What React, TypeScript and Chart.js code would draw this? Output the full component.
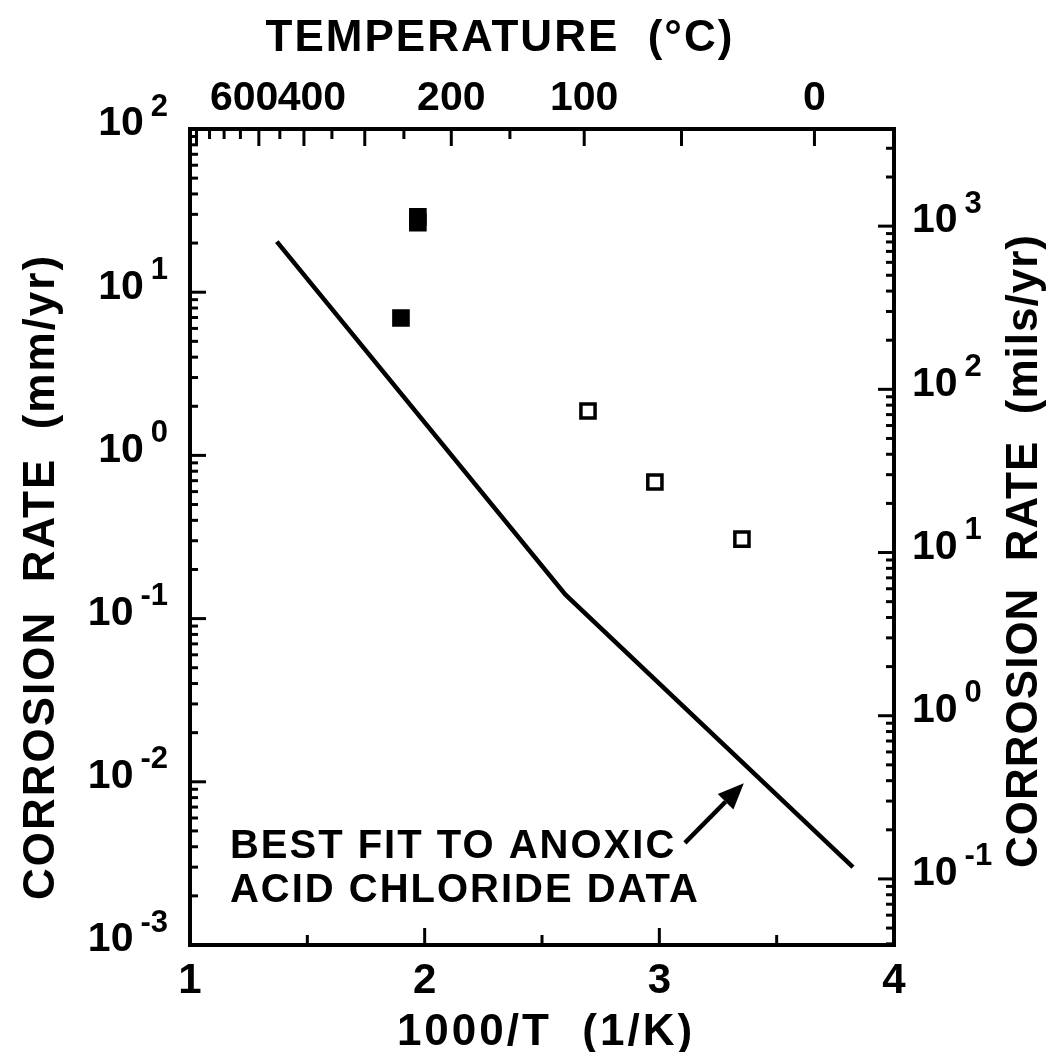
import React, { useEffect, useRef } from "react";
import { Chart, registerables } from "chart.js";
Chart.register(...registerables);

// ---- data ----
const fitX = [1.37, 2.6, 3.825];
const fitY = [20.4, 0.14, 0.003];
const openX = [2.696, 2.981, 3.352];
const openY = [1.87, 0.687, 0.307];
const filledX = [1.971, 1.971, 1.899];
const filledY = [29.0, 26.7, 6.95];

const xMajorTicks = [1, 2, 3, 4];
const xMinorTicks = [1.5, 2.5, 3.5];
const mmDecades = [-3, -2, -1, 0, 1, 2];
const milsDecades = [-1, 0, 1, 2, 3];
const MM_TO_MILS = 39.37;
const tempLabels = [600, 400, 200, 100, 0];
const tempLongTicks = [700, 500, 400, 300, 200, 100, 50, 0];
const tempShortTicks = [650, 600, 550, 450, 350, 250, 150];

const noteLines = ["BEST FIT TO ANOXIC", "ACID CHLORIDE DATA"];
const noteAnchorX = 1.17;
const noteAnchorY = [0.00398, 0.00214];
const arrowFrom = [3.109, 0.00422];
const arrowTo = [3.36, 0.0098];

// style: horizontal nudges (px) for crowded top labels
const tempLabelNudge: Record<number, number> = { 600: 20, 400: 8 };

const FONT = '"Liberation Sans", Arial, Helvetica, sans-serif';
const invT = (c: number) => 1000 / (c + 273.15);

const axesPlugin = {
  id: "axesPlugin",
  afterDraw(chart: any) {
    const { ctx, chartArea: ca, scales } = chart;
    const xs = scales.x;
    const ys = scales.y;
    ctx.save();
    ctx.strokeStyle = "#000";
    ctx.fillStyle = "#000";
    ctx.lineCap = "butt";

    ctx.lineWidth = 4;
    ctx.strokeRect(ca.left, ca.top, ca.right - ca.left, ca.bottom - ca.top);

    ctx.lineWidth = 3;
    const hTick = (x: number, y0: number, len: number) => {
      ctx.beginPath();
      ctx.moveTo(x, y0);
      ctx.lineTo(x, y0 + len);
      ctx.stroke();
    };
    const vTick = (y: number, x0: number, len: number) => {
      ctx.beginPath();
      ctx.moveTo(x0, y);
      ctx.lineTo(x0 + len, y);
      ctx.stroke();
    };

    xMajorTicks.forEach((v) => hTick(xs.getPixelForValue(v), ca.bottom, -17));
    xMinorTicks.forEach((v) => hTick(xs.getPixelForValue(v), ca.bottom, -10));
    tempLongTicks.forEach((t) => hTick(xs.getPixelForValue(invT(t)), ca.top, 17));
    tempShortTicks.forEach((t) => hTick(xs.getPixelForValue(invT(t)), ca.top, 10));

    for (let d = -3; d <= 2; d++) {
      for (let k = 1; k <= 9; k++) {
        const v = k * Math.pow(10, d);
        if (v < 1e-3 - 1e-12 || v > 100 + 1e-9) continue;
        vTick(ys.getPixelForValue(v), ca.left, k === 1 ? 16 : 8);
      }
    }
    for (let d = -2; d <= 3; d++) {
      for (let k = 1; k <= 9; k++) {
        const mils = k * Math.pow(10, d);
        const mm = mils / MM_TO_MILS;
        if (mm < 1e-3 || mm > 100) continue;
        vTick(ys.getPixelForValue(mm), ca.right, k === 1 ? -16 : -8);
      }
    }

    const baseFont = `bold 41px ${FONT}`;
    const expFont = `bold 31px ${FONT}`;
    const drawPow = (exp: number, y: number, x: number, align: "left" | "right") => {
      const es = exp < 0 ? "-" + Math.abs(exp) : String(exp);
      ctx.font = baseFont;
      const wb = ctx.measureText("10").width;
      ctx.font = expFont;
      const we = ctx.measureText(es).width;
      const gap = 7;
      const x0 = align === "right" ? x - (wb + gap + we) : x;
      ctx.textBaseline = "middle";
      ctx.textAlign = "left";
      ctx.font = baseFont;
      ctx.fillText("10", x0, y - 5);
      ctx.font = expFont;
      ctx.fillText(es, x0 + wb + gap, y - 22);
    };
    mmDecades.forEach((d) => drawPow(d, ys.getPixelForValue(Math.pow(10, d)), ca.left - 22, "right"));
    milsDecades.forEach((d) =>
      drawPow(d, ys.getPixelForValue(Math.pow(10, d) / MM_TO_MILS), ca.right + 18, "left")
    );

    ctx.font = `bold 42px ${FONT}`;
    ctx.textAlign = "center";
    ctx.textBaseline = "middle";
    xMajorTicks.forEach((v) => ctx.fillText(String(v), xs.getPixelForValue(v), ca.bottom + 36));
    ctx.font = `bold 41px ${FONT}`;
    tempLabels.forEach((t) =>
      ctx.fillText(String(t), xs.getPixelForValue(invT(t)) + (tempLabelNudge[t] || 0), ca.top - 30)
    );

    const cx = (ca.left + ca.right) / 2;
    const cy = (ca.top + ca.bottom) / 2;
    ctx.font = `bold 44px ${FONT}`;
    (ctx as any).letterSpacing = "3px";
    ctx.fillText("1000/T  (1/K)", cx + 4, ca.bottom + 88);
    (ctx as any).letterSpacing = "2px";
    ctx.fillText("TEMPERATURE  (°C)", cx - 42, ca.top - 90);
    ctx.save();
    ctx.translate(ca.left - 148, cy + 40);
    ctx.rotate(-Math.PI / 2);
    ctx.fillText("CORROSION  RATE  (mm/yr)", 0, 0);
    ctx.restore();
    (ctx as any).letterSpacing = "1px";
    ctx.save();
    ctx.translate(ca.right + 131, cy + 14);
    ctx.rotate(-Math.PI / 2);
    ctx.fillText("CORROSION  RATE  (mils/yr)", 0, 0);
    ctx.restore();

    (ctx as any).letterSpacing = "2px";
    ctx.font = `bold 40px ${FONT}`;
    ctx.textAlign = "left";
    noteLines.forEach((s, i) =>
      ctx.fillText(s, xs.getPixelForValue(noteAnchorX), ys.getPixelForValue(noteAnchorY[i]))
    );
    (ctx as any).letterSpacing = "0px";

    const ax0 = xs.getPixelForValue(arrowFrom[0]);
    const ay0 = ys.getPixelForValue(arrowFrom[1]);
    const ax1 = xs.getPixelForValue(arrowTo[0]);
    const ay1 = ys.getPixelForValue(arrowTo[1]);
    const ang = Math.atan2(ay1 - ay0, ax1 - ax0);
    const hl = 26, hw = 11;
    const bx = ax1 - hl * Math.cos(ang);
    const by = ay1 - hl * Math.sin(ang);
    ctx.lineWidth = 4.5;
    ctx.beginPath();
    ctx.moveTo(ax0, ay0);
    ctx.lineTo(bx, by);
    ctx.stroke();
    ctx.beginPath();
    ctx.moveTo(ax1, ay1);
    ctx.lineTo(bx + hw * Math.sin(ang), by - hw * Math.cos(ang));
    ctx.lineTo(bx - hw * Math.sin(ang), by + hw * Math.cos(ang));
    ctx.closePath();
    ctx.fill();

    ctx.restore();
  },
};

export default function App() {
  const ref = useRef<HTMLCanvasElement>(null);
  useEffect(() => {
    if (!ref.current) return;
    const toPts = (xs: number[], ys: number[]) => xs.map((x, i) => ({ x, y: ys[i] }));
    const chart = new Chart(ref.current, {
      type: "scatter",
      data: {
        datasets: [
          {
            label: "Best fit",
            data: toPts(fitX, fitY),
            showLine: true,
            borderColor: "#000",
            borderWidth: 4.5,
            pointRadius: 0,
            fill: false,
          },
          {
            label: "Data (open)",
            data: toPts(openX, openY),
            pointStyle: "rect",
            pointRadius: 10,
            borderWidth: 3.5,
            borderColor: "#000",
            backgroundColor: "#fff",
          },
          {
            label: "Data (filled)",
            data: toPts(filledX, filledY),
            pointStyle: "rect",
            pointRadius: 10,
            borderWidth: 3.5,
            borderColor: "#000",
            backgroundColor: "#000",
          },
        ],
      },
      options: {
        animation: false,
        responsive: false,
        layout: { padding: { left: 182, top: 121, right: 161, bottom: 107 } },
        plugins: { legend: { display: false }, tooltip: { enabled: false }, title: { display: false } },
        scales: {
          x: { type: "linear", min: 1, max: 4, display: false },
          y: { type: "logarithmic", min: 0.001, max: 100, display: false },
        },
      },
      plugins: [axesPlugin],
    });
    return () => chart.destroy();
  }, []);
  return (
    <div style={{ width: 1047, height: 1044 }}>
      <canvas ref={ref} width={1047} height={1044} style={{ display: "block" }} />
    </div>
  );
}
